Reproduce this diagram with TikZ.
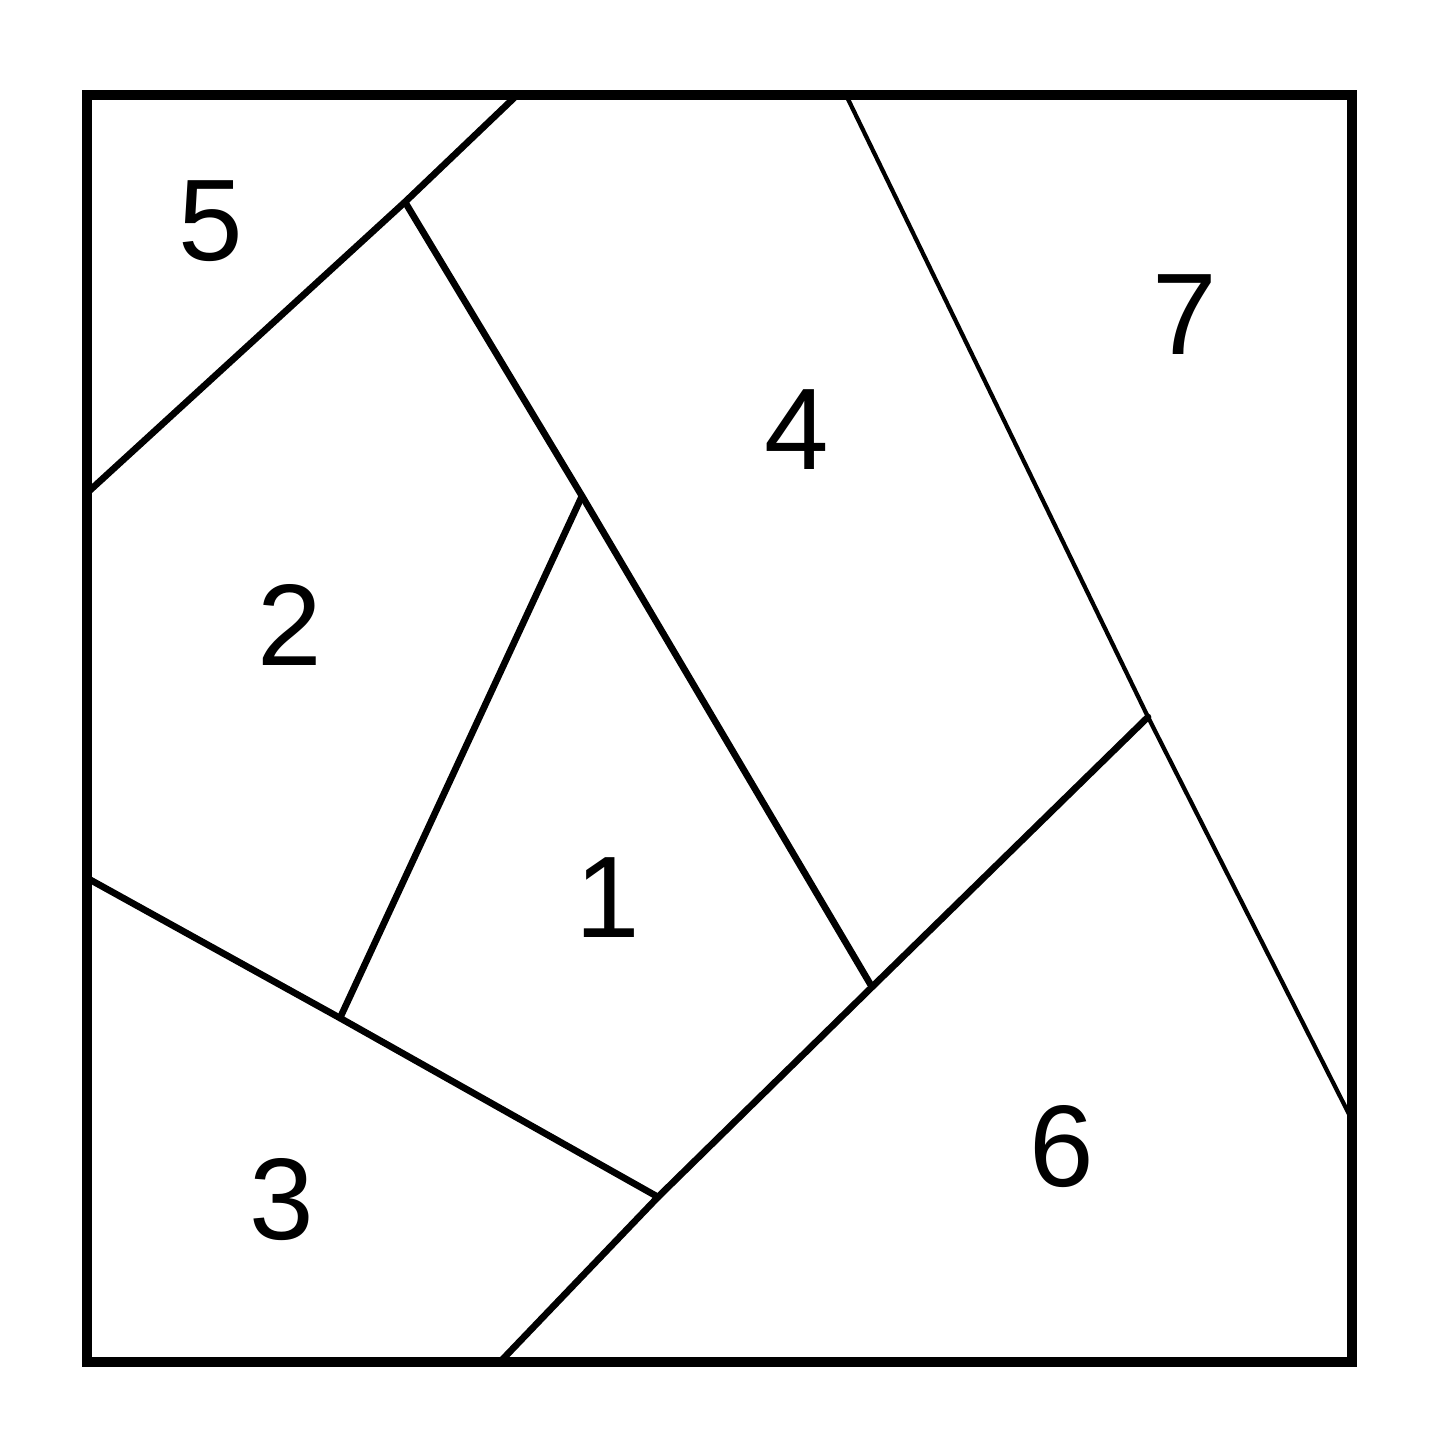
\documentclass[tikz,border=0pt]{standalone}
\usepackage{fontspec}
\setmainfont{Liberation Sans}

\begin{document}
\begin{tikzpicture}[x=0.01cm, y=-0.01cm,
  frame/.style={draw, line width=2.6pt},
  seam/.style={draw, line width=1.9pt, line cap=round},
  thinseam/.style={draw, line width=1.2pt, line cap=round},
  every node/.style={font=\fontsize{33}{36}\selectfont}]
\useasboundingbox (0,0) rectangle (1445,1445);
\coordinate (TL) at (87,95);
\coordinate (BR) at (1352,1362);
\coordinate (P0) at (515,97);
\coordinate (P1) at (87,493);
\coordinate (P2) at (405,202);
\coordinate (P3) at (582,496);
\coordinate (P4) at (872,987);
\coordinate (P5) at (340,1018);
\coordinate (P6) at (87,878);
\coordinate (P7) at (658,1197);
\coordinate (P8) at (1148,717);
\coordinate (P9) at (500,1362);
\coordinate (P10) at (847,97);
\coordinate (P11) at (1352,1120);
\draw[frame] (TL) rectangle (BR);
\draw[seam] (P0) -- (P2) -- (P1);
\draw[seam] (P2) -- (P3) -- (P4);
\draw[seam] (P3) -- (P5);
\draw[seam] (P6) -- (P5) -- (P7);
\draw[seam] (P8) -- (P4) -- (P7) -- (P9);
\draw[thinseam] (P10) -- (P8) -- (P11);
\node (R1) at (608,898) {1};
\node (R2) at (290,625) {2};
\node (R3) at (282,1200) {3};
\node (R4) at (797,430) {4};
\node (R5) at (211,221) {5};
\node (R6) at (1062,1147) {6};
\node (R7) at (1185,315) {7};
\end{tikzpicture}
\end{document}
